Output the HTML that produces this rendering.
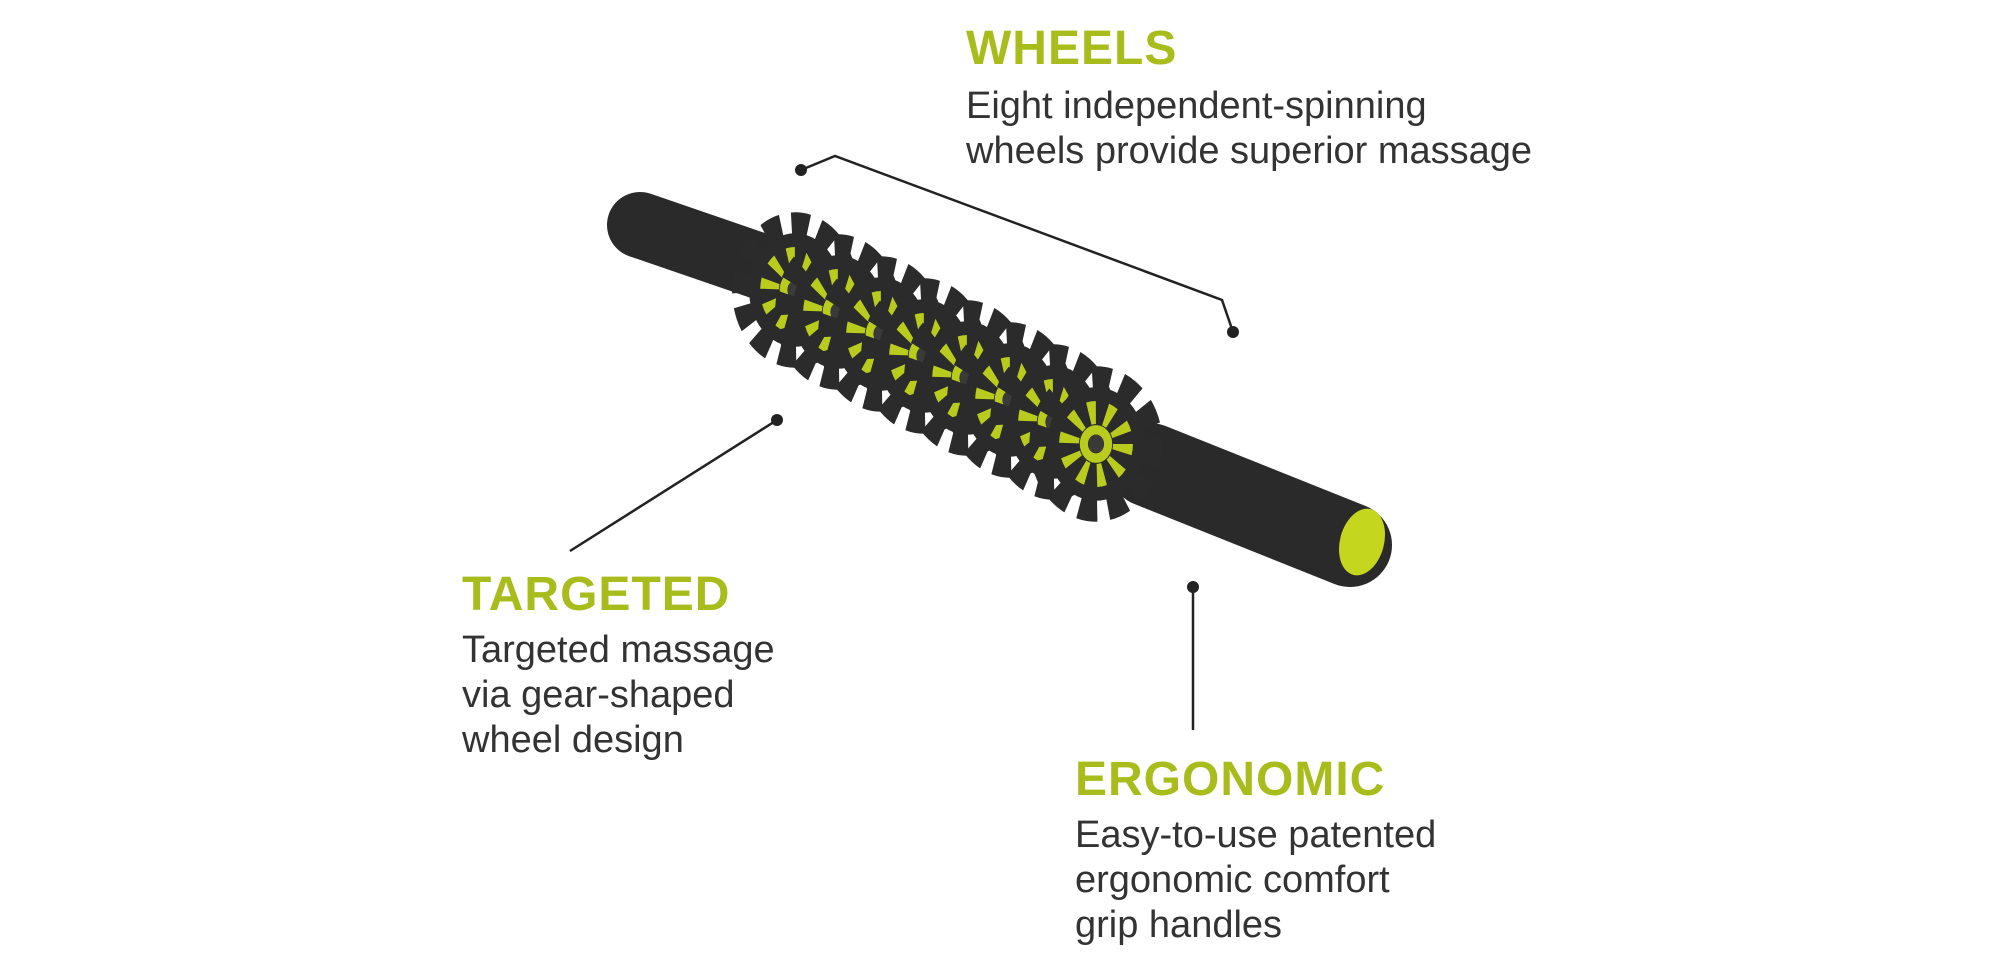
<!DOCTYPE html>
<html><head><meta charset="utf-8"><style>
html,body{margin:0;padding:0;background:#fff;}
body{width:2000px;height:980px;position:relative;overflow:hidden;font-family:"Liberation Sans",sans-serif;}
.h{position:absolute;color:#a8bd1c;font-weight:bold;font-size:48px;letter-spacing:1px;line-height:1;}
.t{position:absolute;color:#333;font-size:38px;line-height:45px;}
svg{position:absolute;left:0;top:0;}
</style></head><body>
<svg width="2000" height="980" viewBox="0 0 2000 980">
<defs>
<g id="gear">
<circle r="54" fill="#2b2b2b"/>
<circle r="62" fill="none" stroke="#2b2b2b" stroke-width="24" stroke-dasharray="20 12"/>
<circle r="30" fill="none" stroke="#b9cc1e" stroke-width="22" stroke-dasharray="8 11"/>
<circle r="18" fill="#b9cc1e"/>
<circle r="9" fill="#3a3a3a"/>
</g>
</defs>
<g stroke="#222" stroke-width="2.5" fill="none">
<polyline points="801,170 835,156 1222,300 1233,332"/>
<line x1="777" y1="420" x2="570" y2="551"/>
<line x1="1193" y1="587" x2="1193" y2="730"/>
</g>
<g fill="#222">
<circle cx="801" cy="170" r="6"/><circle cx="1233" cy="332" r="6"/>
<circle cx="777" cy="420" r="6"/><circle cx="1193" cy="587" r="6"/>
</g>
<g stroke-linecap="round">
<line x1="640" y1="225" x2="800" y2="280" stroke="#2a2a2a" stroke-width="66"/>
<line x1="780" y1="270" x2="1140" y2="460" stroke="#333" stroke-width="40"/>
<line x1="1150" y1="465" x2="1350" y2="545" stroke="#2a2a2a" stroke-width="84"/>
</g>
<ellipse cx="1362" cy="542" rx="22" ry="34" fill="#c5d61f" transform="rotate(15 1362 542)"/>
<g>
<use href="#gear" transform="translate(795,290) scale(0.85,1.05)"/>
<use href="#gear" transform="translate(838,312) scale(0.85,1.05)"/>
<use href="#gear" transform="translate(881,334) scale(0.85,1.05)"/>
<use href="#gear" transform="translate(924,356) scale(0.85,1.05)"/>
<use href="#gear" transform="translate(967,378) scale(0.85,1.05)"/>
<use href="#gear" transform="translate(1010,400) scale(0.85,1.05)"/>
<use href="#gear" transform="translate(1053,422) scale(0.85,1.05)"/>
<use href="#gear" transform="translate(1096,444) scale(0.9,1.05)"/>
</g>
</svg>
<div class="h" style="left:966px;top:25px;">WHEELS</div>
<div class="t" style="left:966px;top:84px;">Eight independent-spinning<br>wheels provide superior massage</div>
<div class="h" style="left:462px;top:571px;">TARGETED</div>
<div class="t" style="left:462px;top:628px;">Targeted massage<br>via gear-shaped<br>wheel design</div>
<div class="h" style="left:1075px;top:756px;">ERGONOMIC</div>
<div class="t" style="left:1075px;top:813px;">Easy-to-use patented<br>ergonomic comfort<br>grip handles</div>
</body></html>
